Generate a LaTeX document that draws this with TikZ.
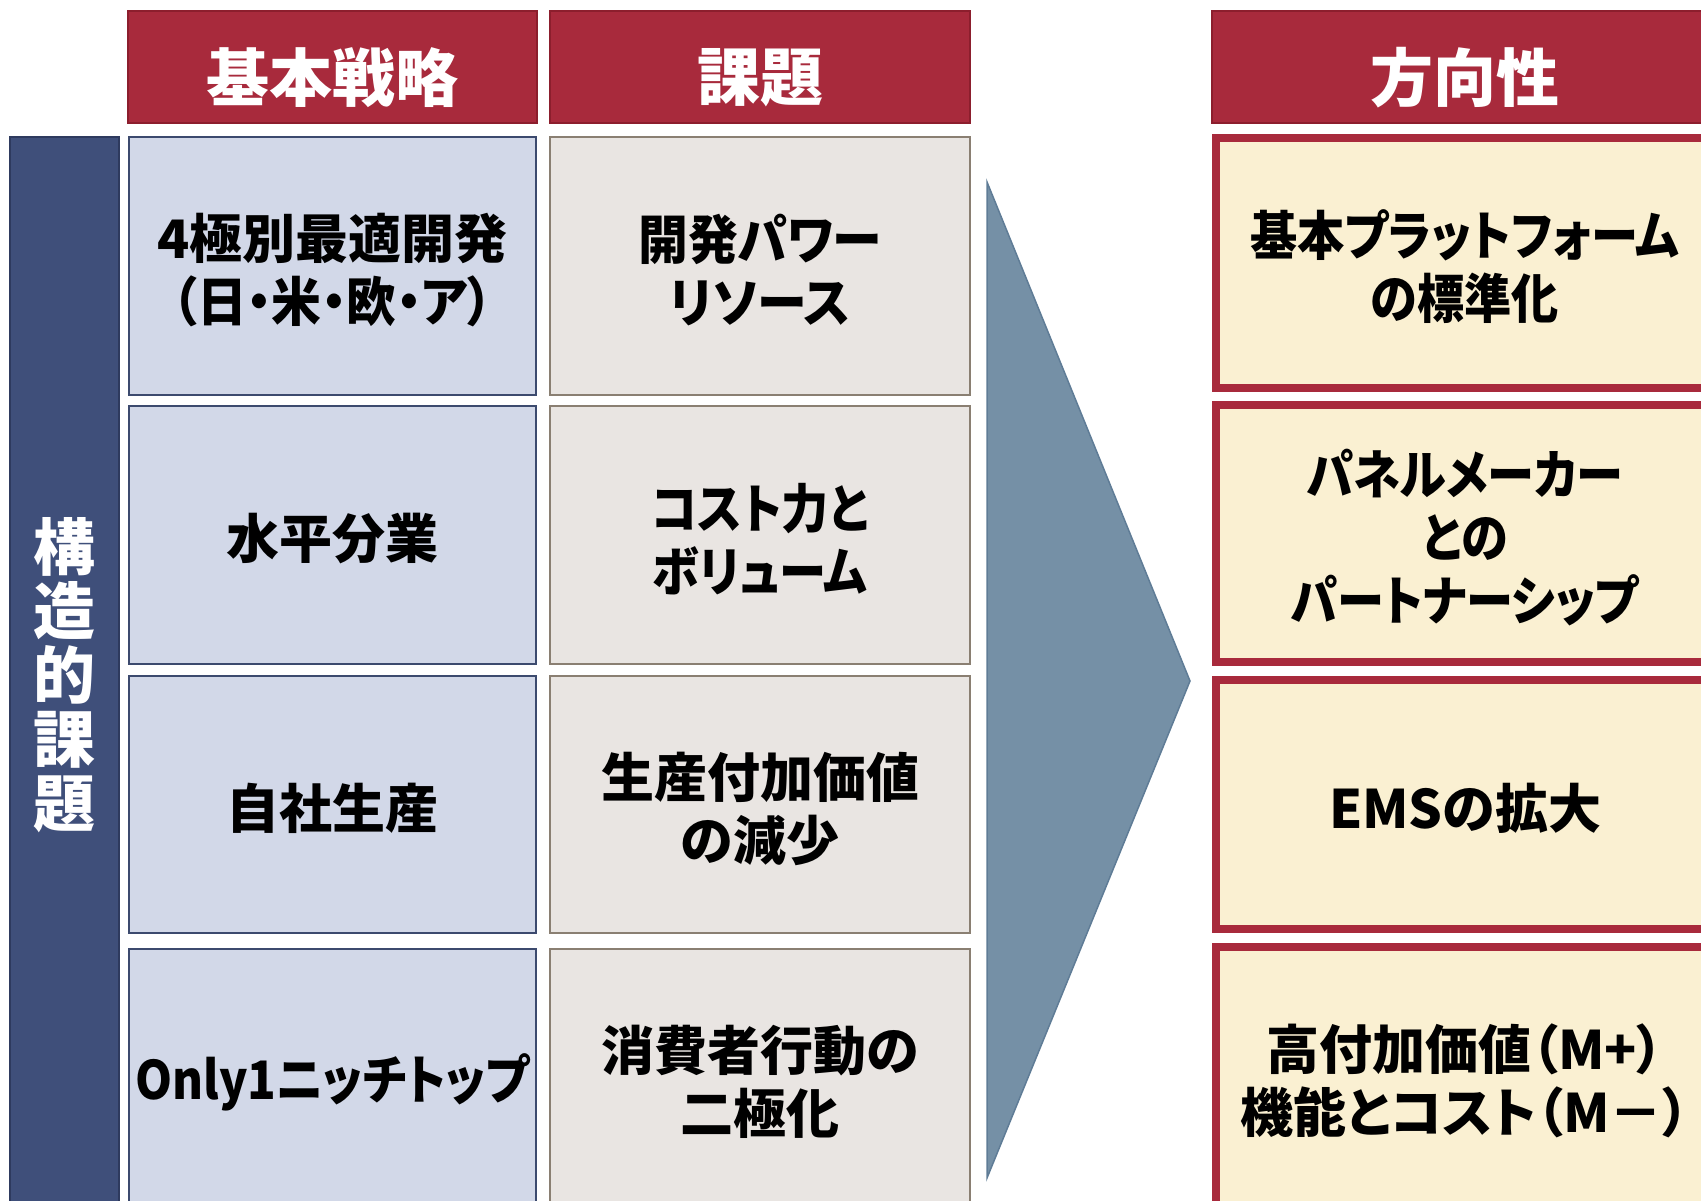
\documentclass[tikz,border=0pt]{standalone}
\usepackage{fontspec}
\newfontfamily\jp[RawFeature=+palt]{Noto Sans CJK JP}
\newfontfamily\jpn[RawFeature=+palt,FakeStretch=0.89]{Noto Sans CJK JP}
\newfontfamily\jpm[RawFeature=+palt,FakeStretch=0.94]{Noto Sans CJK JP}
\definecolor{hdrred}{RGB}{168,42,60}
\definecolor{hdrline}{RGB}{140,30,45}
\definecolor{barblue}{RGB}{63,79,122}
\definecolor{barline}{RGB}{46,58,94}
\definecolor{bluefill}{RGB}{210,216,232}
\definecolor{blueline}{RGB}{60,74,110}
\definecolor{greyfill}{RGB}{233,229,226}
\definecolor{greyline}{RGB}{138,127,114}
\definecolor{arrowfill}{RGB}{117,144,166}
\definecolor{arrowline}{RGB}{95,124,150}
\definecolor{creamfill}{RGB}{250,240,210}
\begin{document}
\begin{tikzpicture}[x=1pt,y=-1pt,
  hdr/.style={fill=hdrred, draw=hdrline, line width=1.5pt, inner sep=0pt, minimum height=112pt},
  hdrtext/.style={text=white, inner sep=0pt, yshift=-11pt,
    font=\jp\bfseries\fontsize{63}{70}\selectfont},
  body/.style={inner sep=0pt, align=center, text=black, yshift=-4pt,
    font=\jp\bfseries\fontsize{53}{63}\selectfont},
  narrow/.style={body, font=\jpn\bfseries\fontsize{53}{63}\selectfont},
  semi/.style={body, font=\jpm\bfseries\fontsize{53}{63}\selectfont},
  bluebox/.style={fill=bluefill, draw=blueline, line width=2pt, inner sep=0pt, minimum width=407pt},
  greybox/.style={fill=greyfill, draw=greyline, line width=2pt, inner sep=0pt, minimum width=420pt},
  dirbox/.style={fill=creamfill, draw=hdrred, line width=8pt, inner sep=0pt, minimum width=498pt},
  sidebar/.style={fill=barblue, draw=barline, line width=2pt, text=white, inner sep=0pt,
    align=center, font=\jp\bfseries\fontsize{62}{64}\selectfont},
  arrowshape/.style={fill=arrowfill, draw=arrowline, line width=1.5pt}
]
\useasboundingbox (0,0) rectangle (1701,1201);
\clip (0,0) rectangle (1701,1201);

% headers
\node[hdr, minimum width=409pt] (h1) at (332.5,67) {};
\node[hdr, minimum width=420pt] (h2) at (760,67) {};
\node[hdr, minimum width=506pt] (h3) at (1465,67) {};
\node[hdrtext] (th1) at (h1.center) {基本戦略};
\node[hdrtext] (th2) at (h2.center) {課題};
\node[hdrtext] (th3) at (h3.center) {方向性};

% side bar
\node[sidebar, minimum width=109pt, minimum height=1076pt] (side) at (64.5,675) {構\\造\\的\\課\\題};

% basic strategy column
\node[bluebox, minimum height=258pt] (b1) at (332.5,266) {};
\node[bluebox, minimum height=258pt] (b2) at (332.5,535) {};
\node[bluebox, minimum height=257pt] (b3) at (332.5,804.5) {};
\node[bluebox, minimum height=258pt] (b4) at (332.5,1078) {};
\node[body] (tb1) at (b1.center) {4極別最適開発\\{\jpm（日・米・欧・ア）}};
\node[body] (tb2) at (b2.center) {水平分業};
\node[body] (tb3) at (b3.center) {自社生産};
\node[narrow] (tb4) at (b4.center) {Only1ニッチトップ};

% issues column
\node[greybox, minimum height=258pt] (g1) at (760,266) {};
\node[greybox, minimum height=258pt] (g2) at (760,535) {};
\node[greybox, minimum height=257pt] (g3) at (760,804.5) {};
\node[greybox, minimum height=258pt] (g4) at (760,1078) {};
\node[semi] (tg1) at (g1.center) {開発パワー\\リソース};
\node[narrow] (tg2) at (g2.center) {コスト力と\\ボリューム};
\node[body] (tg3) at (g3.center) {生産付加価値\\の減少};
\node[body] (tg4) at (g4.center) {消費者行動の\\二極化};

% big arrow
\coordinate (atop) at (987,182);
\coordinate (atip) at (1190,681);
\coordinate (abot) at (987,1178);
\path[arrowshape] (atop) -- (atip) -- (abot) -- cycle;

% direction column
\node[dirbox, minimum height=250pt] (d1) at (1465,263) {};
\node[dirbox, minimum height=257pt] (d2) at (1465,533.5) {};
\node[dirbox, minimum height=249pt] (d3) at (1465,804.5) {};
\node[dirbox, minimum height=258pt] (d4) at (1465,1076) {};
\node[narrow] (td1) at (d1.center) {基本プラットフォーム\\の標準化};
\node[narrow] (td2) at (d2.center) {パネルメーカー\\との\\パートナーシップ};
\node[body] (td3) at (d3.center) {EMSの拡大};
\node[body, yshift=-1pt] (td4) at (d4.center) {高付加価値（M+）\\機能とコスト（M－）};
\end{tikzpicture}
\end{document}
